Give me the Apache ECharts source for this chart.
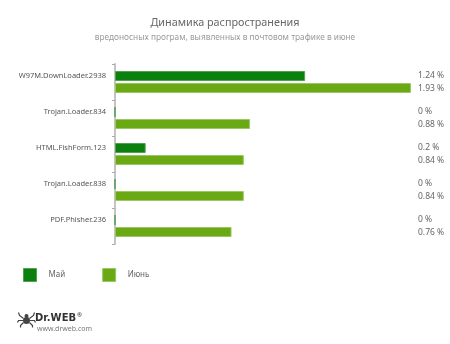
<!DOCTYPE html>
<html><head><meta charset="utf-8">
<script src="https://cdn.jsdelivr.net/npm/echarts@6/dist/echarts.min.js"></script>
<style>html,body{margin:0;padding:0;background:#fff}#c{width:450px;height:344px}</style>
</head><body><div id="c"></div>
<script>
const categories = ['W97M.DownLoader.2938','Trojan.Loader.834','HTML.FishForm.123','Trojan.Loader.838','PDF.Phisher.236'];
const mayValues = [1.24, 0, 0.2, 0, 0];
const juneValues = [1.93, 0.88, 0.84, 0.84, 0.76];
const seriesNames = ['Май','Июнь'];
const titleText = 'Динамика распространения';
const subtitleText = 'вредоносных програм, выявленных в почтовом трафике в июне';

const FONT = '"Noto Sans", sans-serif';
const chart = echarts.init(document.getElementById('c'), null, {renderer:'canvas'});
const fmt = v => (Math.round(v*100)/100) + ' %';
chart.setOption({
  animation:false,
  title:{text:titleText, subtext:subtitleText, left:'center', top:12, itemGap:6,
    textStyle:{fontFamily:FONT, fontSize:10.8, fontWeight:'normal', color:'#666'},
    subtextStyle:{fontFamily:FONT, fontSize:8.3, color:'#9a9a9a'}},
  grid:{left:115, top:64, width:299, height:180, containLabel:false},
  xAxis:{type:'value', min:0, max:1.95, show:false},
  yAxis:[{type:'category', data:categories, inverse:true,
    axisLine:{show:true, lineStyle:{color:'#c4c4c4', width:2}},
    axisTick:{show:true, length:3, lineStyle:{color:'#aaa', width:1}},
    axisLabel:{fontFamily:FONT, fontSize:7.5, color:'#555', margin:9, verticalAlign:'bottom', lineHeight:12}},
   {type:'category', data:categories, inverse:true, position:'right',
    axisLine:{show:false}, axisTick:{show:false},
    axisLabel:{fontFamily:FONT, fontSize:8.5, color:'#666', margin:4, align:'left', lineHeight:12.5,
      formatter:(v, i) => fmt(mayValues[i]) + '\n' + fmt(juneValues[i])}}],
  legend:{left:23, top:268, padding:0, itemWidth:13, itemHeight:13, itemGap:37, icon:'rect',
    textStyle:{fontFamily:FONT, fontSize:8, color:'#666', padding:[0,0,0,7]},
    data:[{name:seriesNames[0], itemStyle:{borderColor:'#4fa150', borderWidth:1}},
          {name:seriesNames[1], itemStyle:{borderColor:'#98c860', borderWidth:1}}]},
  series:[
    {name:seriesNames[0], type:'bar', data:mayValues, barWidth:10, barGap:'20%',
     itemStyle:{color:'#0b800e', borderColor:'#4fa150', borderWidth:1}},
    {name:seriesNames[1], type:'bar', data:juneValues, barWidth:10, barGap:'20%',
     itemStyle:{color:'#6aa913', borderColor:'#98c860', borderWidth:1}}
  ],
  graphic:[
    {type:'group', left:15, top:310, children:[
      {type:'circle', shape:{cx:9, cy:8, r:3.5}, style:{fill:'#444'}},
      {type:'circle', shape:{cx:9, cy:3.5, r:2}, style:{fill:'#444'}},
      {type:'polyline', shape:{points:[[6,6],[2,3],[1,0]]}, style:{stroke:'#444', lineWidth:1.2, fill:null}},
      {type:'polyline', shape:{points:[[12,6],[16,3],[17,0]]}, style:{stroke:'#444', lineWidth:1.2, fill:null}},
      {type:'polyline', shape:{points:[[5.5,8],[1,8],[0,10]]}, style:{stroke:'#444', lineWidth:1.2, fill:null}},
      {type:'polyline', shape:{points:[[12.5,8],[17,8],[18,10]]}, style:{stroke:'#444', lineWidth:1.2, fill:null}},
      {type:'polyline', shape:{points:[[6,10],[3,13],[3,15]]}, style:{stroke:'#444', lineWidth:1.2, fill:null}},
      {type:'polyline', shape:{points:[[12,10],[15,13],[15,15]]}, style:{stroke:'#444', lineWidth:1.2, fill:null}}
    ]},
    {type:'text', left:35, top:313, style:{text:'Dr.WEB', fontFamily:'"DejaVu Sans", sans-serif', fontSize:10, fontWeight:'bold', fill:'#333'}},
    {type:'text', left:77, top:312, style:{text:'®', fontFamily:FONT, fontSize:6, fill:'#333'}},
    {type:'text', left:37, top:325, style:{text:'www.drweb.com', fontFamily:FONT, fontSize:7, fill:'#777'}}
  ]
});
</script></body></html>
